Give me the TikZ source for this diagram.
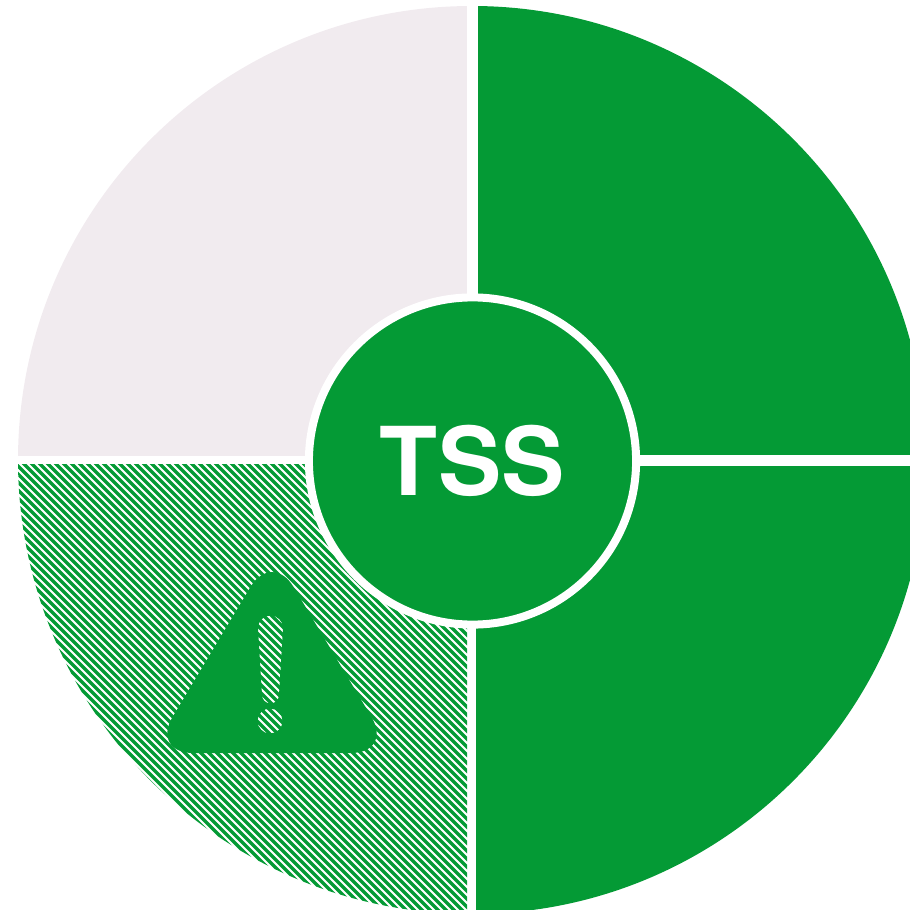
\documentclass[tikz,border=0pt]{standalone}
\usepackage{fontspec}
\setmainfont{TeX Gyre Heros}
\usepackage{xcolor}
\definecolor{tssgreen}{HTML}{049A35}
\definecolor{tssgrey}{HTML}{F1EBEF}
\tikzset{
  hatchline/.style={tssgreen,line width=0.33mm},
  hub/.style={circle,fill=tssgreen,draw=white,line width=0.08cm,minimum size=3.27cm,inner sep=0pt,text=white,font=\fontsize{27}{30}\selectfont\bfseries}
}
\begin{document}
\begin{tikzpicture}[x=0.01cm,y=-0.01cm]
\useasboundingbox (0,0) rectangle (910,910);
\clip (0,0) rectangle (910,910);
\coordinate (c) at (472,460);

\begin{scope}
\clip (c) circle (454);
\fill[tssgreen] (478,0) rectangle (910,455);
\fill[tssgreen] (476,466) rectangle (910,910);
\fill[tssgrey] (0,0) rectangle (467,456);
\begin{scope}
\clip (0,464) rectangle (467,910);
\foreach \k in {0,8,...,928}
  \draw[hatchline] (0,\k) -- ++(500,500);
\end{scope}
\end{scope}

% warning sign, the mark is a hole
\fill[tssgreen,even odd rule]
  [rounded corners=0.42cm] (272,551) -- (393,753) -- (151,753) -- cycle
  [rounded corners=0pt]
  (258,628) arc (180:360:12.5) -- (279,695) arc (0:180:8.5) -- cycle
  (270,721) circle (12.5);

\node[hub] (tss) at (472.5,461) {TSS};
\end{tikzpicture}
\end{document}
